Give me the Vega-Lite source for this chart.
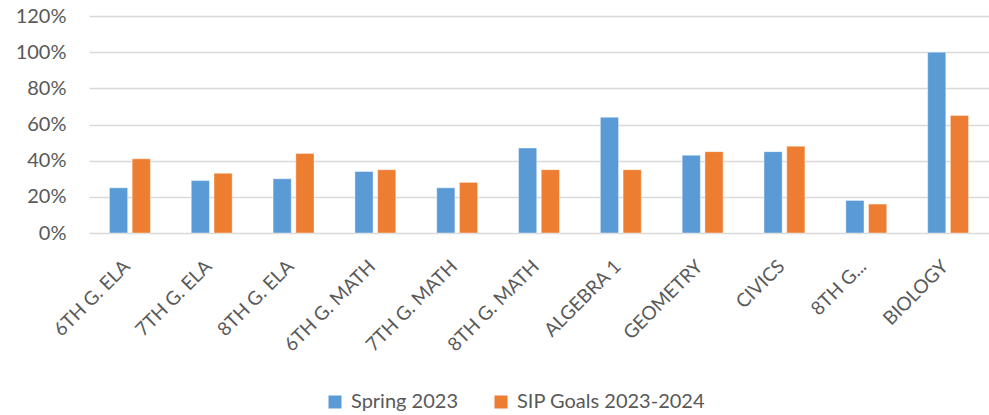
{
  "$schema": "https://vega.github.io/schema/vega-lite/v6.json",
  "width": 900,
  "height": 217,
  "autosize": {"type": "none"},
  "padding": {"left": 89, "top": 16, "right": 0, "bottom": 182},
  "background": "white",
  "data": {
    "values": [
      {"subject": "6TH G. ELA", "series": "Spring 2023", "value": 0.25},
      {"subject": "6TH G. ELA", "series": "SIP Goals 2023-2024", "value": 0.41},
      {"subject": "7TH G. ELA", "series": "Spring 2023", "value": 0.29},
      {"subject": "7TH G. ELA", "series": "SIP Goals 2023-2024", "value": 0.33},
      {"subject": "8TH G. ELA", "series": "Spring 2023", "value": 0.30},
      {"subject": "8TH G. ELA", "series": "SIP Goals 2023-2024", "value": 0.44},
      {"subject": "6TH G. MATH", "series": "Spring 2023", "value": 0.34},
      {"subject": "6TH G. MATH", "series": "SIP Goals 2023-2024", "value": 0.35},
      {"subject": "7TH G. MATH", "series": "Spring 2023", "value": 0.25},
      {"subject": "7TH G. MATH", "series": "SIP Goals 2023-2024", "value": 0.28},
      {"subject": "8TH G. MATH", "series": "Spring 2023", "value": 0.47},
      {"subject": "8TH G. MATH", "series": "SIP Goals 2023-2024", "value": 0.35},
      {"subject": "ALGEBRA 1", "series": "Spring 2023", "value": 0.64},
      {"subject": "ALGEBRA 1", "series": "SIP Goals 2023-2024", "value": 0.35},
      {"subject": "GEOMETRY", "series": "Spring 2023", "value": 0.43},
      {"subject": "GEOMETRY", "series": "SIP Goals 2023-2024", "value": 0.45},
      {"subject": "CIVICS", "series": "Spring 2023", "value": 0.45},
      {"subject": "CIVICS", "series": "SIP Goals 2023-2024", "value": 0.48},
      {"subject": "8TH G...", "series": "Spring 2023", "value": 0.18},
      {"subject": "8TH G...", "series": "SIP Goals 2023-2024", "value": 0.16},
      {"subject": "BIOLOGY", "series": "Spring 2023", "value": 1.00},
      {"subject": "BIOLOGY", "series": "SIP Goals 2023-2024", "value": 0.65}
    ]
  },
  "mark": {"type": "bar", "stroke": "white", "strokeWidth": 0.8, "strokeOpacity": 0.5},
  "encoding": {
    "x": {
      "field": "subject",
      "type": "nominal",
      "sort": null,
      "title": null,
      "scale": {"paddingInner": 0.5, "paddingOuter": 0.25},
      "axis": {
        "labelAngle": -45,
        "labelAlign": "right",
        "labelBaseline": "middle",
        "labelFont": "Lato",
        "labelFontSize": 19,
        "labelColor": "#595959",
        "labelPadding": 30,
        "labelOffset": -3,
        "domain": false,
        "ticks": false,
        "labelLimit": 200
      }
    },
    "xOffset": {
      "field": "series",
      "type": "nominal",
      "sort": ["Spring 2023", "SIP Goals 2023-2024"],
      "scale": {"paddingInner": 0.2}
    },
    "y": {
      "field": "value",
      "type": "quantitative",
      "title": null,
      "scale": {"domain": [0, 1.2]},
      "axis": {
        "values": [0, 0.2, 0.4, 0.6, 0.8, 1.0, 1.2],
        "format": ".0%",
        "labelFont": "Lato",
        "labelFontSize": 20,
        "labelColor": "#595959",
        "labelPadding": 23,
        "domain": false,
        "ticks": false,
        "gridColor": "#d9d9d9",
        "gridWidth": 1.3
      }
    },
    "color": {
      "field": "series",
      "type": "nominal",
      "sort": ["Spring 2023", "SIP Goals 2023-2024"],
      "scale": {"domain": ["Spring 2023", "SIP Goals 2023-2024"], "range": ["#5B9BD5", "#ED7D31"]},
      "legend": {
        "title": null,
        "orient": "none",
        "legendX": 236,
        "legendY": 376,
        "direction": "horizontal",
        "symbolType": "square",
        "symbolSize": 169,
        "symbolStrokeWidth": 0,
        "symbolOffset": 0,
        "labelOffset": 6,
        "labelFont": "Lato",
        "labelFontSize": 20,
        "labelLimit": 400,
        "labelColor": "#595959",
        "columnPadding": 33
      }
    }
  },
  "config": {"view": {"stroke": null}}
}
